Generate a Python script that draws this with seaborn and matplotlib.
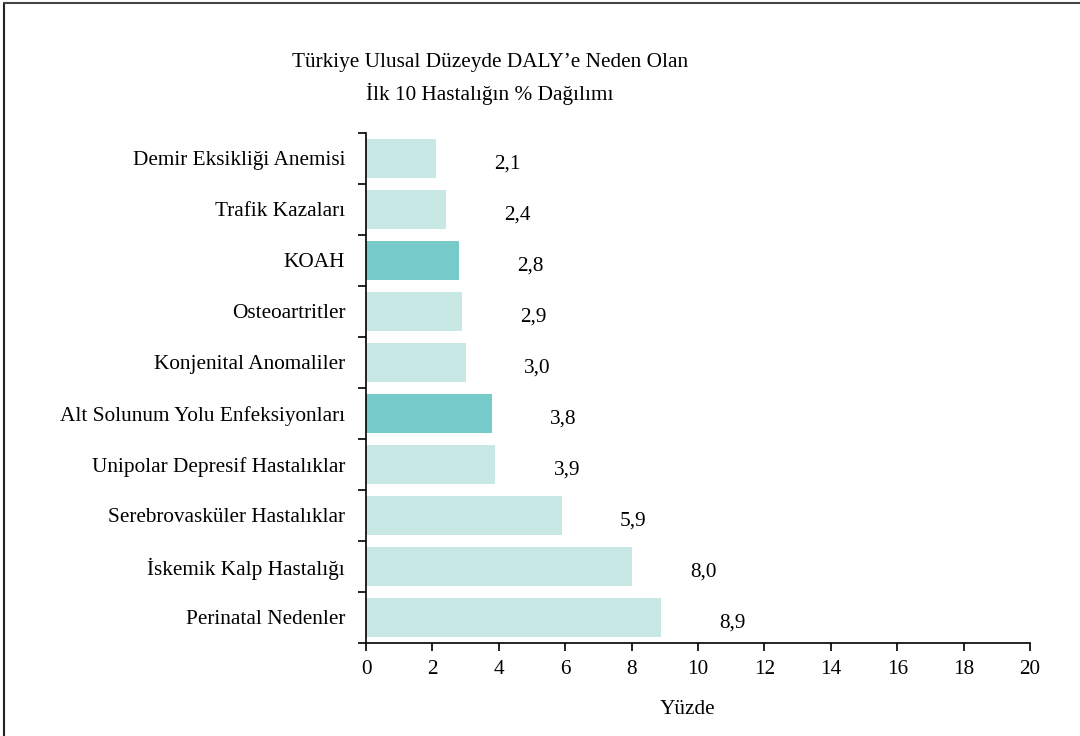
import seaborn as sns
import matplotlib.pyplot as plt
import pandas as pd
from matplotlib.lines import Line2D

# DALY top-10 diseases, Turkey (%)
diseases = [
    "Demir Eksikliği Anemisi",
    "Trafik Kazaları",
    "KOAH",
    "Osteoartritler",
    "Konjenital Anomaliler",
    "Alt Solunum Yolu Enfeksiyonları",
    "Unipolar Depresif Hastalıklar",
    "Serebrovasküler Hastalıklar",
    "İskemik Kalp Hastalığı",
    "Perinatal Nedenler",
]
percent = [2.1, 2.4, 2.8, 2.9, 3.0, 3.8, 3.9, 5.9, 8.0, 8.9]
highlighted = ["KOAH", "Alt Solunum Yolu Enfeksiyonları"]

light = "#C8E8E5"
dark = "#76CBC8"
palette = {d: (dark if d in highlighted else light) for d in diseases}

df = pd.DataFrame({"Hastalik": diseases, "Yuzde": percent})

sns.set_style("white")
plt.rcParams['font.family'] = ['Liberation Serif', 'DejaVu Serif']
plt.rcParams['text.color'] = 'black'
plt.rcParams['xtick.color'] = 'black'
plt.rcParams['ytick.color'] = 'black'

fs = 15.3

fig = plt.figure(figsize=(10.8, 7.36), dpi=100)
ax = fig.add_axes([366 / 1080, 1 - 643 / 736, 664 / 1080, 510 / 736])

sns.barplot(data=df, x="Yuzde", y="Hastalik", hue="Hastalik", palette=palette,
            order=diseases, hue_order=diseases, legend=False, width=0.76,
            saturation=1, linewidth=0, ax=ax)

# value labels sit well to the right of each bar
for i, v in enumerate(percent):
    ax.text(v + 2.15, i + 0.1, f"{v:.1f}".replace('.', ','), ha='center', va='center',
            fontsize=fs, color='black')

ax.set_xlim(0, 20)
ax.set_ylim(len(diseases) - 0.5, -0.5)
ax.set_xticks(range(0, 21, 2))
ax.set_xlabel("")
ax.set_ylabel("")

# category labels without ticks, boundary ticks as minor
ax.set_yticks(range(len(diseases)))
ax.set_yticklabels(diseases)
ax.set_yticks([i - 0.5 for i in range(len(diseases) + 1)], minor=True)
ax.tick_params(axis='y', which='major', left=True, length=0, pad=15, labelsize=fs,
               labelcolor='black')
ax.tick_params(axis='y', which='minor', left=True, length=6, width=1.2, color='black',
               direction='out')
ax.tick_params(axis='x', which='major', bottom=True, length=6, width=1.2, color='black',
               direction='out', labelsize=fs, pad=6.5, labelcolor='black')

for side in ['top', 'right']:
    ax.spines[side].set_visible(False)
for side in ['left', 'bottom']:
    ax.spines[side].set_color('black')
    ax.spines[side].set_linewidth(1.2)

fig.text(490 / 1080, 1 - 63 / 736, "Türkiye Ulusal Düzeyde DALY’e Neden Olan",
         ha='center', va='center', fontsize=fs, color='black')
fig.text(490 / 1080, 1 - 94 / 736, "İlk 10 Hastalığın % Dağılımı",
         ha='center', va='center', fontsize=fs, color='black')
fig.text(688 / 1080, 1 - 710 / 736, "Yüzde", ha='center', va='center', fontsize=fs,
         color='black')

# outer frame (only top and left visible in the crop)
fig.add_artist(Line2D([4 / 1080, 4 / 1080], [0, 1 - 3 / 736], transform=fig.transFigure,
                      color='#222222', linewidth=1.5))
fig.add_artist(Line2D([4 / 1080, 1], [1 - 3 / 736, 1 - 3 / 736], transform=fig.transFigure,
                      color='#444444', linewidth=1.5))

plt.savefig('out.png', dpi=100, facecolor='white')
